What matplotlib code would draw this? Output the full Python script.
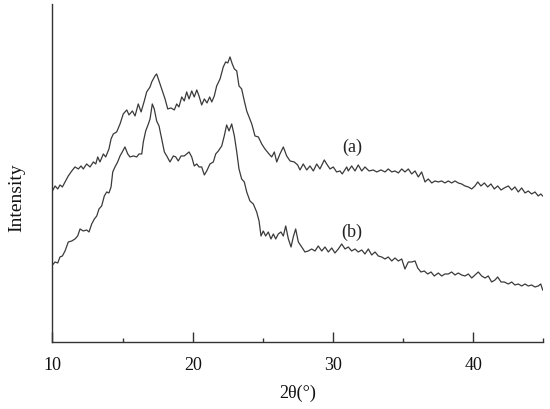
import matplotlib
matplotlib.use("Agg")
from matplotlib import pyplot as plt
from matplotlib.ticker import MultipleLocator

# curve (a): 2theta (deg) and intensity (a.u.)
theta_a = [10.0, 10.19, 10.38, 10.54, 10.71, 10.9, 11.13, 11.38, 11.61, 11.85,
           12.04, 12.2, 12.44, 12.68, 12.92, 13.09, 13.23, 13.39, 13.63, 13.8,
           14.03, 14.18, 14.34, 14.58, 14.82, 15.05, 15.3, 15.46, 15.7, 15.89,
           16.12, 16.32, 16.55, 16.72, 16.96, 17.08, 17.31, 17.43, 17.6, 17.79,
           18.03, 18.22, 18.45, 18.69, 18.86, 19.02, 19.22, 19.4, 19.57, 19.74,
           19.93, 20.11, 20.29, 20.45, 20.64, 20.83, 21.02, 21.21, 21.36, 21.54,
           21.71, 21.95, 22.18, 22.35, 22.5, 22.66, 22.82, 22.97, 23.14, 23.3,
           23.49, 23.68, 23.85, 24.21, 24.44, 24.68, 24.92, 25.15, 25.44, 25.63,
           25.82, 25.99, 26.22, 26.46, 26.7, 26.94, 27.24, 27.48, 27.65, 27.88,
           28.13, 28.36, 28.6, 28.84, 29.07, 29.38, 29.55, 29.79, 30.02, 30.26,
           30.5, 30.66, 30.98, 31.09, 31.33, 31.57, 31.8, 32.05, 32.28, 32.57,
           32.87, 33.12, 33.42, 33.71, 33.94, 34.19, 34.42, 34.66, 34.9, 35.13,
           35.37, 35.61, 35.85, 36.08, 36.32, 36.56, 36.79, 37.04, 37.27, 37.51,
           37.75, 37.98, 38.22, 38.46, 38.7, 38.93, 39.17, 39.41, 39.65, 39.89,
           40.12, 40.32, 40.55, 40.79, 41.03, 41.26, 41.5, 41.74, 41.98, 42.21,
           42.5, 42.74, 42.97, 43.21, 43.45, 43.69, 43.92, 44.16, 44.4, 44.63,
           44.81, 44.95]
inten_a = [151, 156, 153, 157, 155, 160, 166, 171, 175, 173,
           176, 173, 178, 175, 180, 178, 185, 180, 188, 185,
           193, 203, 208, 210, 218, 228, 232, 227, 231, 226,
           238, 230, 241, 250, 255, 260, 266, 268, 261, 253,
           243, 233, 234, 232, 238, 235, 245, 241, 250, 243,
           251, 245, 252, 246, 237, 243, 239, 245, 240, 246,
           256, 263, 275, 280, 279, 285, 278, 273, 271, 256,
           253, 241, 231, 218, 206, 205, 198, 193, 188, 185,
           190, 180, 188, 195, 186, 181, 180, 177, 172, 178,
           172, 176, 171, 178, 173, 182, 178, 173, 175, 170,
           171, 168, 175, 171, 176, 171, 177, 171, 175, 171,
           172, 170, 172, 170, 173, 170, 171, 169, 173, 170,
           173, 168, 171, 165, 170, 160, 163, 159, 161, 160,
           161, 159, 161, 159, 161, 159, 158, 156, 155, 153,
           156, 160, 156, 159, 155, 158, 153, 156, 152, 154,
           156, 152, 155, 150, 154, 149, 151, 148, 150, 146,
           148, 146]

# curve (b)
theta_b = [10.0, 10.19, 10.38, 10.54, 10.71, 10.9, 11.13, 11.38, 11.61, 11.8,
           11.97, 12.2, 12.44, 12.61, 12.8, 12.99, 13.16, 13.32, 13.51, 13.7,
           13.87, 14.03, 14.18, 14.3, 14.46, 14.65, 14.82, 14.98, 15.17, 15.37,
           15.53, 15.77, 16.01, 16.17, 16.37, 16.48, 16.65, 16.84, 16.96, 17.12,
           17.26, 17.43, 17.6, 17.79, 17.98, 18.15, 18.38, 18.62, 18.79, 18.97,
           19.17, 19.4, 19.57, 19.74, 19.93, 20.11, 20.29, 20.45, 20.64, 20.83,
           21.0, 21.23, 21.47, 21.64, 21.83, 22.07, 22.25, 22.42, 22.59, 22.78,
           22.97, 23.14, 23.3, 23.49, 23.68, 23.85, 24.08, 24.32, 24.56, 24.73,
           24.87, 25.03, 25.2, 25.39, 25.58, 25.75, 25.92, 26.1, 26.29, 26.46,
           26.63, 26.82, 27.01, 27.17, 27.34, 27.53, 27.77, 28.0, 28.24, 28.48,
           28.72, 28.95, 29.2, 29.43, 29.67, 29.91, 30.14, 30.38, 30.62, 30.86,
           31.09, 31.33, 31.57, 31.8, 32.05, 32.28, 32.52, 32.76, 33.0, 33.23,
           33.47, 33.71, 33.94, 34.19, 34.42, 34.66, 34.9, 35.13, 35.37, 35.61,
           35.85, 36.04, 36.27, 36.51, 36.75, 36.99, 37.22, 37.51, 37.75, 37.98,
           38.22, 38.46, 38.7, 38.93, 39.17, 39.41, 39.65, 39.89, 40.12, 40.36,
           40.6, 40.84, 41.07, 41.31, 41.55, 41.74, 41.98, 42.21, 42.5, 42.74,
           42.97, 43.21, 43.45, 43.69, 43.92, 44.16, 44.4, 44.63, 44.81, 44.95]
inten_b = [77, 80, 79, 85, 86, 91, 100, 101, 103, 106,
           113, 111, 112, 110, 118, 123, 126, 133, 136, 146,
           150, 149, 155, 170, 175, 180, 186, 190, 195, 188,
           185, 186, 185, 188, 188, 200, 211, 218, 223, 238,
           233, 221, 216, 203, 190, 186, 180, 186, 185, 181,
           186, 186, 188, 190, 185, 176, 178, 175, 175, 167,
           171, 178, 180, 188, 191, 196, 206, 217, 211, 218,
           206, 190, 173, 163, 160, 150, 141, 138, 130, 121,
           106, 111, 106, 110, 103, 108, 103, 108, 110, 106,
           116, 103, 95, 105, 113, 100, 95, 90, 91, 93,
           91, 96, 91, 95, 90, 94, 89, 93, 98, 93,
           95, 91, 93, 90, 92, 88, 93, 87, 90, 86,
           85, 83, 85, 81, 84, 81, 83, 73, 80, 80,
           81, 74, 70, 71, 68, 70, 66, 69, 66, 68,
           68, 70, 67, 69, 67, 66, 68, 64, 67, 70,
           66, 64, 66, 60, 62, 65, 60, 60, 58, 60,
           57, 58, 56, 58, 56, 57, 55, 56, 58, 52]

labels = ["(a)", "(b)"]
label_pos = [(31.35, 196), (31.35, 111)]

plt.rcParams['font.family'] = ['Liberation Serif', 'DejaVu Serif']

fig = plt.figure(figsize=(5.5, 4.1), dpi=100)
ax = fig.add_axes([0.0953, 0.1634, 0.8927, 0.8246])

ax.plot(theta_a, inten_a, color="#3a3a3a", lw=0.9)
ax.plot(theta_b, inten_b, color="#3a3a3a", lw=0.9)
for lab, (tx, ty) in zip(labels, label_pos):
    ax.text(tx, ty, lab, fontsize=13, ha="center", va="center", color="#222222")

ax.set_xlim(10, 45)
ax.set_ylim(0, 338)
ax.spines["top"].set_visible(False)
ax.spines["right"].set_visible(False)
for s in ("left", "bottom"):
    ax.spines[s].set_color("#333333")
    ax.spines[s].set_linewidth(1.0)

ax.xaxis.set_major_locator(MultipleLocator(10))
ax.xaxis.set_minor_locator(MultipleLocator(5))
ax.tick_params(axis="x", which="major", direction="in", length=7, width=1,
               colors="#333333", labelcolor="#111111", labelsize=13, pad=10)
ax.tick_params(axis="x", which="minor", direction="in", length=3, width=1,
               colors="#333333")
ax.set_yticks([])

ax.set_xlabel("2θ(°)", fontsize=13, labelpad=8, color="#111111")
ax.set_ylabel("Intensity", fontsize=14, color="#111111")
ax.yaxis.set_label_coords(-0.055, 0.43)

fig.savefig("out.png", dpi=100)
